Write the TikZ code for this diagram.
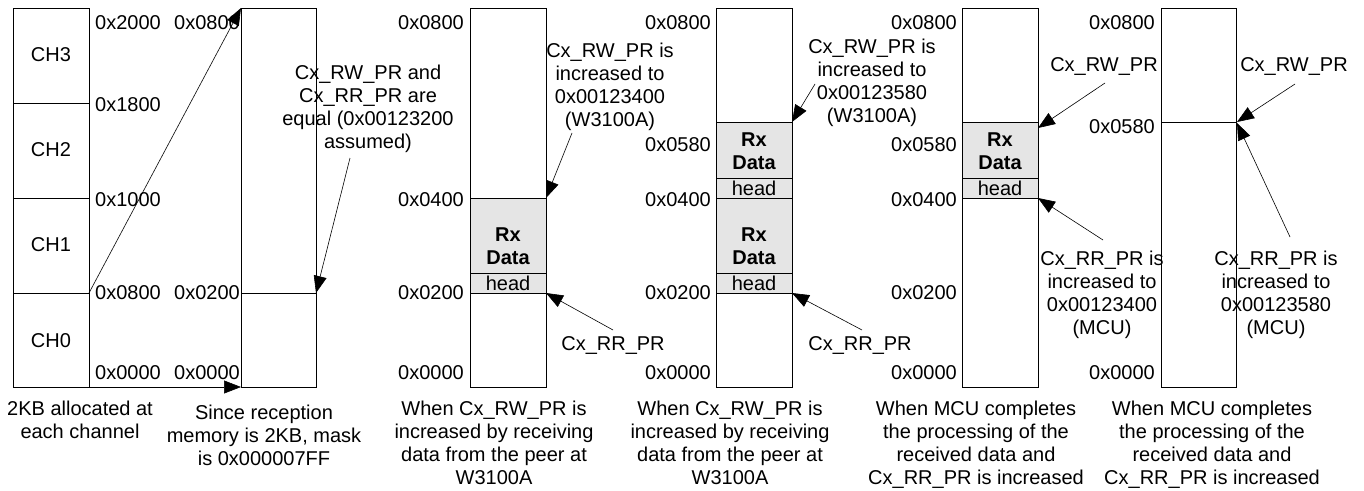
\documentclass[tikz,border=0pt]{standalone}
\usepackage{fontspec}
\setmainfont{Liberation Sans}
\usetikzlibrary{arrows.meta}
\definecolor{rxgray}{gray}{0.9}
\tikzset{
  every node/.style={font=\fontsize{20}{23}\selectfont,inner sep=0pt},
  mem/.style={draw,line width=0.9pt},
  rxdata/.style={draw,line width=0.9pt,fill=rxgray},
  rx/.style={align=center,font=\fontsize{20}{23}\selectfont\bfseries},
  addrl/.style={anchor=west},
  addr/.style={anchor=east},
  note/.style={anchor=north,align=center},
  ptr/.style={-{Triangle[length=17pt,width=13pt]},line width=0.6pt},
}
\begin{document}
\begin{tikzpicture}[x=1pt,y=-1pt]
\useasboundingbox (0,0) rectangle (1364,490);
% channels
\draw[mem] (13,8) rectangle (89,387);
\foreach \y in {103,198,293}{
\draw[mem] (13,\y)--(89,\y);};
\foreach \c/\y in {3/55,2/150,1/245,0/341}{
\node (ch\c) at (51,\y) {CH\c};};
\foreach \a/\y in {2000/23,1800/105,1000/200,0800/293,0000/373}{
\node[addrl] (ch-\a) at (95,\y) {0x\a};};
\node[note] (cap1) at (80,401) {2KB allocated at\\each channel};
% reception memory
\draw[mem] (241,8) rectangle (316,387);
\draw[mem] (241,293)--(316,293);
\foreach \a/\y in {0800/23,0200/293,0000/373}{
\node[addr] (m-\a) at (240,\y) {0x\a};};
\coordinate (c1top) at (89,293);
\coordinate (mtop) at (241,8);
\coordinate (c0bot) at (89,387);
\coordinate (mbot) at (241,387);
\draw[ptr] (c1top)--(mtop);
\draw[ptr] (c0bot)--(mbot);
\node[note] (eq) at (368,65) {Cx\_RW\_PR and\\Cx\_RR\_PR are\\equal (0x00123200\\assumed)};
\coordinate (eqfrom) at (350,158);
\coordinate (eqtip) at (316,293);
\draw[ptr] (eqfrom)--(eqtip);
\node[note] (cap2) at (264,405) {Since reception\\memory is 2KB, mask\\is 0x000007FF};
% first reception
\draw[rxdata] (470,198) rectangle (546,273);
\draw[rxdata] (470,273) rectangle (546,293);
\draw[mem] (470,8) rectangle (546,387);
\node[rx] (rx3) at (508,246) {Rx\\Data};
\node (hd3) at (508,283) {head};
\foreach \a/\y in {0800/23,0400/200,0200/293,0000/373}{
\node[addr] (p3-\a) at (464,\y) {0x\a};};
\node[note] (rw3) at (610,43) {Cx\_RW\_PR is\\increased to\\0x00123400\\(W3100A)};
\node (rr3) at (613,345) {Cx\_RR\_PR};
\coordinate (rw3from) at (572,133);
\coordinate (rw3tip) at (546,198);
\coordinate (rr3from) at (613,330);
\coordinate (rr3tip) at (546,293);
\draw[ptr] (rw3from)--(rw3tip);
\draw[ptr] (rr3from)--(rr3tip);
\node[note] (cap3) at (494,401) {When Cx\_RW\_PR is\\increased by receiving\\data from the peer at\\W3100A};
% second reception
\draw[rxdata] (716,122) rectangle (792,178);
\draw[rxdata] (716,178) rectangle (792,198);
\draw[rxdata] (716,198) rectangle (792,273);
\draw[rxdata] (716,273) rectangle (792,293);
\draw[mem] (716,8) rectangle (792,387);
\node[rx] (rx4a) at (754,151) {Rx\\Data};
\node (hd4a) at (754,188) {head};
\node[rx] (rx4b) at (754,246) {Rx\\Data};
\node (hd4b) at (754,283) {head};
\foreach \a/\y in {0800/23,0580/145,0400/200,0200/293,0000/373}{
\node[addr] (p4-\a) at (711,\y) {0x\a};};
\node[note] (rw4) at (872,39) {Cx\_RW\_PR is\\increased to\\0x00123580\\(W3100A)};
\node (rr4) at (860,345) {Cx\_RR\_PR};
\coordinate (rw4from) at (815,84);
\coordinate (rw4tip) at (792,122);
\coordinate (rr4from) at (862,330);
\coordinate (rr4tip) at (792,293);
\draw[ptr] (rw4from)--(rw4tip);
\draw[ptr] (rr4from)--(rr4tip);
\node[note] (cap4) at (730,401) {When Cx\_RW\_PR is\\increased by receiving\\data from the peer at\\W3100A};
% first processing
\draw[rxdata] (962,122) rectangle (1038,178);
\draw[rxdata] (962,178) rectangle (1038,198);
\draw[mem] (962,8) rectangle (1038,387);
\node[rx] (rx5) at (1000,151) {Rx\\Data};
\node (hd5) at (1000,188) {head};
\foreach \a/\y in {0800/23,0580/145,0400/200,0200/293,0000/373}{
\node[addr] (p5-\a) at (957,\y) {0x\a};};
\node (rw5) at (1104,67) {Cx\_RW\_PR};
\node[note] (rr5) at (1102,251) {Cx\_RR\_PR is\\increased to\\0x00123400\\(MCU)};
\coordinate (rw5from) at (1105,83);
\coordinate (rw5tip) at (1038,128);
\coordinate (rr5from) at (1103,240);
\coordinate (rr5tip) at (1038,198);
\draw[ptr] (rw5from)--(rw5tip);
\draw[ptr] (rr5from)--(rr5tip);
\node[note] (cap5) at (976,401) {When MCU completes\\the processing of the\\received data and\\Cx\_RR\_PR is increased};
% second processing
\draw[mem] (1161,8) rectangle (1236,387);
\draw[mem] (1161,122)--(1236,122);
\foreach \a/\y in {0800/23,0580/127,0000/373}{
\node[addr] (p6-\a) at (1155,\y) {0x\a};};
\node (rw6) at (1294,67) {Cx\_RW\_PR};
\node[note] (rr6) at (1276,251) {Cx\_RR\_PR is\\increased to\\0x00123580\\(MCU)};
\coordinate (rw6from) at (1295,84);
\coordinate (rw6tip) at (1237,122);
\coordinate (rr6from) at (1290,237);
\coordinate (rr6tip) at (1237,123);
\draw[ptr] (rw6from)--(rw6tip);
\draw[ptr] (rr6from)--(rr6tip);
\node[note] (cap6) at (1212,401) {When MCU completes\\the processing of the\\received data and\\Cx\_RR\_PR is increased};
\end{tikzpicture}
\end{document}
